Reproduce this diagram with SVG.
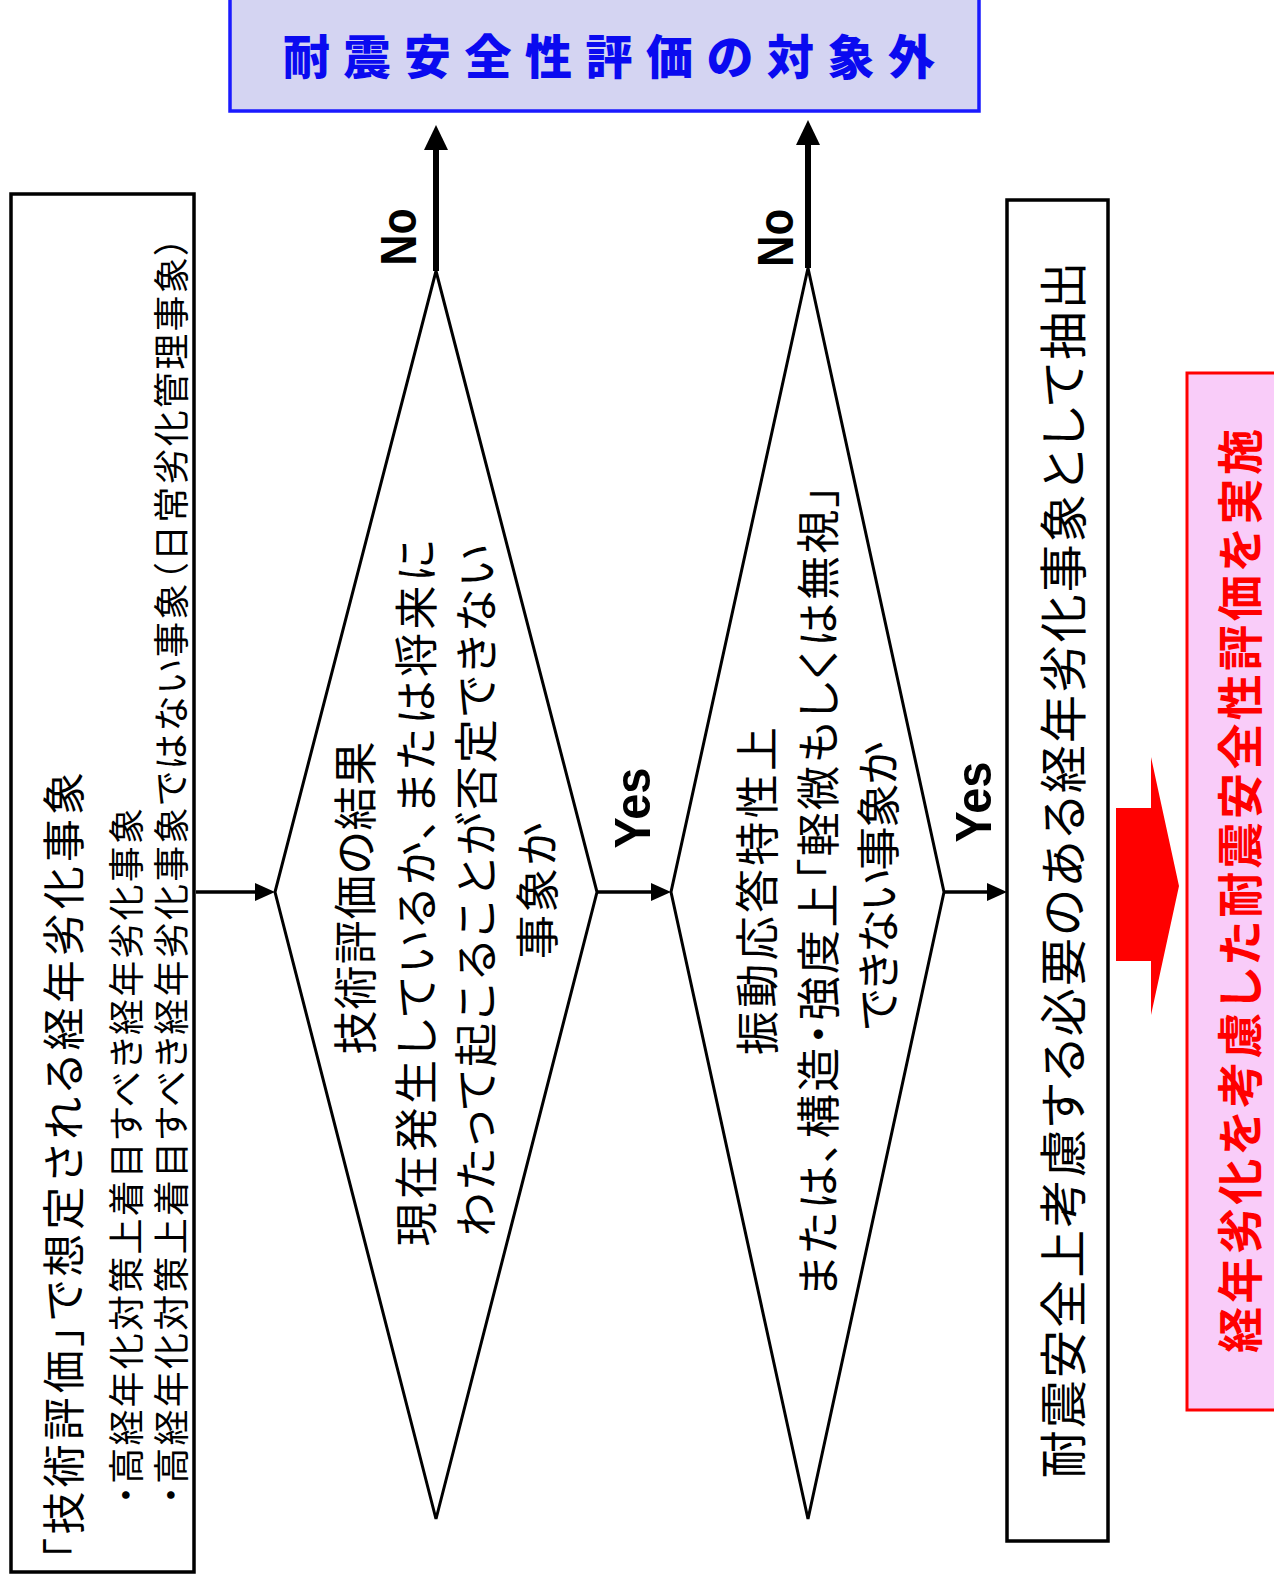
<svg xmlns="http://www.w3.org/2000/svg" width="1274" height="1583" viewBox="0 0 1274 1583">
<style>
.jp{font-family:"Noto Sans CJK JP","Noto Sans",sans-serif;fill:#000;dominant-baseline:central;font-feature-settings:"palt" 1}
.lbl{font-family:"Liberation Sans",Arial,sans-serif;font-weight:bold;fill:#000;dominant-baseline:central;text-anchor:middle}
.box{fill:#fff;stroke:#000;stroke-width:3.5}
.dia{fill:#fff;stroke:#000;stroke-width:3}
.thin{stroke:#000;stroke-width:3.5;fill:none}
.thick{stroke:#000;stroke-width:6;fill:none}
</style>
<rect width="1274" height="1583" fill="#fff"/>

<g id="outside">
<rect x="230" y="-5" width="749" height="116" fill="#d4d4f2" stroke="#1a1aff" stroke-width="3.5"/>
<text x="609" y="53" text-anchor="middle" textLength="652" lengthAdjust="spacing" style="font-family:'Noto Sans CJK JP',sans-serif;font-weight:900;font-size:47px;fill:#0a0af0;dominant-baseline:central">耐震安全性評価の対象外</text>
</g>

<g id="source">
<rect x="11" y="194" width="183" height="1378" class="box"/>
<text class="jp" transform="translate(61,1560) rotate(-90)" font-size="43" textLength="788" lengthAdjust="spacing">「技術評価」で想定される経年劣化事象</text>
<text class="jp" transform="translate(124,1504) rotate(-90)" font-size="36" textLength="696" lengthAdjust="spacing">・高経年化対策上着目すべき経年劣化事象</text>
<text class="jp" transform="translate(169,1504) rotate(-90)" font-size="36" textLength="1267" lengthAdjust="spacing">・高経年化対策上着目すべき経年劣化事象ではない事象（日常劣化管理事象）</text>
</g>

<g id="decision1">
<polygon points="436,271 597,892 436,1519 275,892" class="dia"/>
<text class="jp" text-anchor="middle" transform="translate(353,898) rotate(-90)" font-size="44" textLength="313" lengthAdjust="spacing">技術評価の結果</text>
<text class="jp" text-anchor="middle" transform="translate(414,893) rotate(-90)" font-size="44" textLength="707" lengthAdjust="spacing">現在発生しているか、または将来に</text>
<text class="jp" text-anchor="middle" transform="translate(474,891) rotate(-90)" font-size="44" textLength="692" lengthAdjust="spacing">わたって起こることが否定できない</text>
<text class="jp" text-anchor="middle" transform="translate(535,891) rotate(-90)" font-size="44" textLength="136" lengthAdjust="spacing">事象か</text>
</g>

<g id="decision2">
<polygon points="808,268 944,892 808,1519 671,892" class="dia"/>
<text class="jp" text-anchor="middle" transform="translate(755,891) rotate(-90)" font-size="44" textLength="328" lengthAdjust="spacing">振動応答特性上</text>
<text class="jp" text-anchor="middle" transform="translate(816,891) rotate(-90)" font-size="44" textLength="812" lengthAdjust="spacing">または、構造・強度上「軽微もしくは無視」</text>
<text class="jp" text-anchor="middle" transform="translate(876,886) rotate(-90)" font-size="44" textLength="288" lengthAdjust="spacing">できない事象か</text>
</g>

<g id="extract">
<rect x="1007" y="200" width="101" height="1341" class="box"/>
<text class="jp" text-anchor="middle" transform="translate(1060,870) rotate(-90)" font-size="48" textLength="1217" lengthAdjust="spacing">耐震安全上考慮する必要のある経年劣化事象として抽出</text>
</g>

<g id="implement">
<rect x="1187" y="373" width="95" height="1037" fill="#f9ccf9" stroke="#ff0000" stroke-width="3"/>
<text text-anchor="middle" transform="translate(1237,891) rotate(-90)" textLength="924" lengthAdjust="spacing" style="font-family:'Noto Sans CJK JP',sans-serif;font-weight:bold;font-size:46px;fill:#ff0000;dominant-baseline:central;font-feature-settings:'palt' 1">経年劣化を考慮した耐震安全性評価を実施</text>
</g>

<g id="connectors">
<line x1="196" y1="892" x2="258" y2="892" class="thin"/>
<polygon points="275,892 255,883 255,901" fill="#000"/>
<line x1="597" y1="892" x2="654" y2="892" class="thin"/>
<polygon points="671,892 651,883 651,901" fill="#000"/>
<line x1="944" y1="892" x2="990" y2="892" class="thin"/>
<polygon points="1007,892 987,883 987,901" fill="#000"/>
<line x1="436" y1="271" x2="436" y2="145" class="thick"/>
<polygon points="436,125 424,150 448,150" fill="#000"/>
<line x1="808" y1="268" x2="808" y2="140" class="thick"/>
<polygon points="808,120 796,145 820,145" fill="#000"/>
<polygon points="1116,808 1151,808 1151,757 1179,886 1151,1015 1151,961 1116,961" fill="#ff0000"/>
<text class="lbl" transform="translate(399,237) rotate(-90)" font-size="50" textLength="57" lengthAdjust="spacingAndGlyphs">No</text>
<text class="lbl" transform="translate(776,238) rotate(-90)" font-size="50" textLength="58" lengthAdjust="spacingAndGlyphs">No</text>
<text class="lbl" transform="translate(633,808) rotate(-90)" font-size="50" textLength="81" lengthAdjust="spacingAndGlyphs">Yes</text>
<text class="lbl" transform="translate(974,802) rotate(-90)" font-size="50" textLength="81" lengthAdjust="spacingAndGlyphs">Yes</text>
</g>
</svg>
